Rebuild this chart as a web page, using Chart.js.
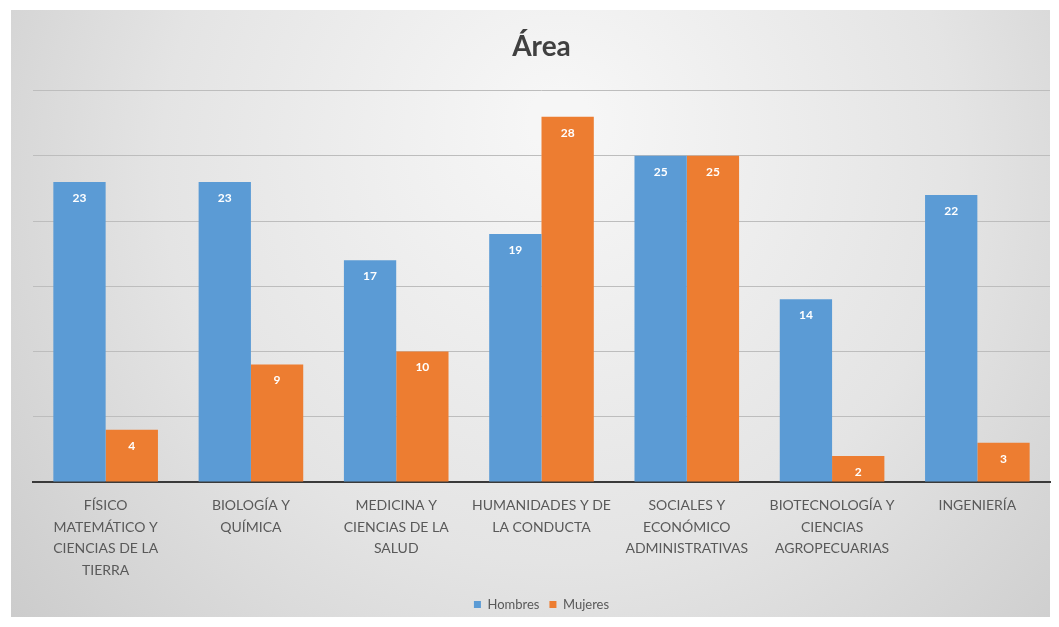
<!DOCTYPE html>
<html>
<head>
<meta charset="utf-8">
<script src="https://cdn.jsdelivr.net/npm/chart.js@4"></script>
<style>
  body { margin: 0; background: #fff; }
</style>
</head>
<body>
<canvas id="areaChart" width="1059" height="627"></canvas>
<script>
const categories = [
  ["FÍSICO", "MATEMÁTICO Y", "CIENCIAS DE LA", "TIERRA"],
  ["BIOLOGÍA Y", "QUÍMICA"],
  ["MEDICINA Y", "CIENCIAS DE LA", "SALUD"],
  ["HUMANIDADES Y DE", "LA CONDUCTA"],
  ["SOCIALES Y", "ECONÓMICO", "ADMINISTRATIVAS"],
  ["BIOTECNOLOGÍA Y", "CIENCIAS", "AGROPECUARIAS"],
  ["INGENIERÍA"],
];
const hombres = [23, 23, 17, 19, 25, 14, 22];
const mujeres = [4, 9, 10, 28, 25, 2, 3];

// gradient panel behind the chart, like the office chart style
const panelBackground = {
  id: "panelBackground",
  beforeDraw(chart) {
    const ctx = chart.ctx;
    ctx.save();
    ctx.fillStyle = "#ffffff";
    ctx.fillRect(0, 0, chart.width, chart.height);
    const grad = ctx.createRadialGradient(560, 120, 30, 560, 200, 700);
    grad.addColorStop(0, "#f6f6f6");
    grad.addColorStop(0.55, "#e4e4e4");
    grad.addColorStop(1, "#cbcbcb");
    ctx.fillStyle = grad;
    ctx.fillRect(11, 10, 1039, 607);
    ctx.restore();
  },
};

// white value labels inside the top of each bar
const barValues = {
  id: "barValues",
  afterDatasetsDraw(chart) {
    const ctx = chart.ctx;
    ctx.save();
    ctx.font = "bold 12px Lato";
    ctx.fillStyle = "#ffffff";
    ctx.textAlign = "center";
    ctx.textBaseline = "middle";
    chart.data.datasets.forEach((ds, i) => {
      chart.getDatasetMeta(i).data.forEach((bar, j) => {
        ctx.fillText(ds.data[j], bar.x, bar.y + 16);
      });
    });
    ctx.restore();
  },
};

const ctx = document.getElementById("areaChart").getContext("2d");

new Chart(ctx, {
  type: "bar",
  data: {
    labels: categories,
    datasets: [
      {
        label: "Hombres",
        data: hombres,
        backgroundColor: "#5b9bd5",
        categoryPercentage: 0.72,
        barPercentage: 1.0,
      },
      {
        label: "Mujeres",
        data: mujeres,
        backgroundColor: "#ed7d31",
        categoryPercentage: 0.72,
        barPercentage: 1.0,
      },
    ],
  },
  options: {
    responsive: false,
    animation: false,
    layout: {
      padding: { left: 33, right: 9, top: 10, bottom: 6 },
    },
    scales: {
      y: {
        min: 0,
        max: 30,
        ticks: { display: false, stepSize: 5 },
        border: { display: false },
        grid: { color: "#bdbdbd", lineWidth: 1, drawTicks: false },
      },
      x: {
        grid: { display: false },
        border: { display: true, color: "#3a3a3a", width: 2 },
        ticks: {
          color: "#595959",
          padding: 5,
          maxRotation: 0,
          autoSkip: false,
          font: { family: "Lato", size: 14, lineHeight: "21.5px" },
        },
        afterFit: (scale) => {
          scale.height = 106;
        },
      },
    },
    plugins: {
      title: {
        display: true,
        text: "Área",
        color: "#404040",
        font: { family: "Lato", size: 28, weight: "bold" },
        padding: { top: 20, bottom: 27 },
      },
      legend: {
        position: "bottom",
        labels: {
          color: "#595959",
          boxWidth: 7,
          boxHeight: 7,
          padding: 10,
          font: { family: "Lato", size: 13 },
        },
      },
      tooltip: { enabled: false },
    },
  },
  plugins: [panelBackground, barValues],
});
</script>
</body>
</html>
